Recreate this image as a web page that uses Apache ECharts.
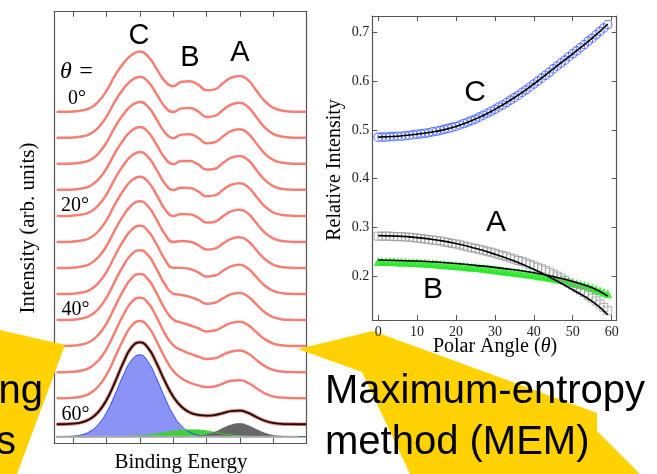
<!DOCTYPE html>
<html>
<head>
<meta charset="utf-8">
<script src="https://cdn.jsdelivr.net/npm/echarts@6/dist/echarts.min.js"></script>
<style>
html, body { margin: 0; padding: 0; background: #fff; }
#chart { width: 657px; height: 474px; }
</style>
</head>
<body>
<div id="chart"></div>
<script>
// ---- left panel: stacked spectra ----
const energy = [-0.5, -0.25, 0, 0.25, 0.5, 0.75, 1, 1.25, 1.5, 1.75, 2, 2.25, 2.5, 2.75, 3, 3.25,
  3.5, 3.75, 4, 4.25, 4.5, 4.75, 5, 5.25, 5.5, 5.75, 6, 6.25, 6.5, 6.75, 7]
const energyTicks = [0, 1, 2, 3, 4, 5, 6, 7]
const angles = [0, 5, 10, 15, 20, 25, 30, 35, 40, 45, 50, 55, 60]
const spectra = [
  [0, 0, 0.3, 1.2, 3.5, 10, 21, 36, 48, 56.5, 60, 55, 43, 30.5, 25.5, 29.8, 30.5, 27, 21.3, 22.3, 28.5, 34, 35.7, 31.5, 21, 10.5, 4, 1.2, 0.3, 0, 0],
  [0, 0, 0.3, 1.2, 3.6, 10.1, 21.1, 36.2, 48.5, 57.3, 60.9, 55.8, 43.7, 31, 25.6, 29.3, 29.8, 26.3, 20.8, 21.8, 27.8, 33.2, 34.8, 30.7, 20.4, 10.2, 3.9, 1.2, 0.3, 0, 0],
  [0, 0, 0.3, 1.3, 3.6, 10.2, 21.3, 36.5, 49.1, 58.1, 61.7, 56.7, 44.4, 31.4, 25.6, 29.1, 29.4, 25.9, 20.5, 21.5, 27.5, 32.8, 34.4, 30.3, 20.2, 10.1, 3.8, 1.2, 0.3, 0, 0],
  [0, 0, 0.3, 1.3, 3.7, 10.3, 21.4, 36.7, 49.6, 58.9, 62.6, 57.5, 45.2, 31.8, 25.7, 28.7, 28.8, 25.4, 20.2, 21.1, 27, 32.1, 33.7, 29.7, 19.8, 9.9, 3.8, 1.1, 0.3, 0, 0],
  [0, 0, 0.4, 1.3, 3.8, 10.4, 21.6, 37, 50.3, 60, 63.7, 58.6, 46.1, 32.4, 25.8, 28.1, 27.9, 24.5, 19.5, 20.5, 26.1, 31.1, 32.6, 28.7, 19.1, 9.5, 3.6, 1.1, 0.3, 0, 0],
  [0, 0, 0.4, 1.4, 3.9, 10.5, 21.8, 37.4, 51.1, 61.2, 65, 59.8, 47.1, 32.9, 25.9, 27.8, 27.5, 24.2, 19.3, 20.2, 25.7, 30.7, 32.2, 28.3, 18.8, 9.4, 3.6, 1.1, 0.3, 0, 0],
  [0, 0, 0.4, 1.4, 4, 10.7, 22, 37.8, 52, 62.6, 66.5, 61.3, 48.4, 33.8, 26, 27, 26.2, 22.9, 18.4, 19.3, 24.5, 29.2, 30.6, 26.9, 17.8, 8.9, 3.4, 1, 0.3, 0, 0],
  [0, 0, 0.4, 1.5, 4.1, 10.8, 22.2, 38.2, 52.9, 64, 68.1, 62.8, 49.7, 34.7, 26.2, 26.1, 24.9, 21.7, 17.5, 18.4, 23.3, 27.8, 29.1, 25.4, 16.9, 8.4, 3.2, 1, 0.2, 0, 0],
  [0, 0, 0.4, 1.5, 4.3, 11, 22.5, 38.7, 54, 65.6, 69.8, 64.5, 51.1, 35.8, 26.4, 25, 23.2, 20.1, 16.3, 17.2, 21.8, 25.9, 27.1, 23.6, 15.6, 7.8, 2.9, 0.9, 0.2, 0, 0],
  [0, 0, 0.5, 1.6, 4.4, 11.2, 22.8, 39.2, 55.3, 67.7, 72, 66.6, 52.9, 37.2, 26.6, 23.4, 20.8, 17.8, 14.7, 15.5, 19.5, 23.2, 24.2, 21, 13.8, 6.9, 2.6, 0.8, 0.2, 0, 0],
  [0, 0, 0.5, 1.7, 4.6, 11.5, 23.2, 39.9, 56.8, 69.9, 74.4, 68.9, 54.9, 38.6, 26.9, 21.9, 18.5, 15.7, 13.2, 13.9, 17.4, 20.7, 21.6, 18.6, 12.2, 6, 2.3, 0.7, 0.2, 0, 0],
  [0, 0, 0.5, 1.7, 4.8, 11.7, 23.6, 40.6, 58.4, 72.3, 77, 71.4, 57, 40.4, 27.3, 20, 15.5, 12.8, 11.1, 11.8, 14.7, 17.4, 18, 15.3, 10, 4.9, 1.8, 0.6, 0.1, 0, 0],
  [0, 0.1, 0.6, 1.9, 5.2, 12.2, 24.3, 41.9, 61.3, 76.8, 81.8, 76, 61, 43, 27.7, 17.5, 11.8, 9.3, 8.6, 9.2, 11.2, 13.2, 13.6, 11.3, 7.2, 3.5, 1.3, 0.4, 0.1, 0, 0]
]
// MEM components of the 60 deg spectrum
const compC = [0, 0.15, 0.6, 1.9, 5.2, 12.2, 24.3, 41.8, 61.1, 76.4, 81.7, 74.5, 58.2, 38.9, 22.2, 10.7, 4.5, 1.6, 0.5, 0.15, 0, 0, 0, 0, 0, 0, 0, 0, 0, 0, 0]
const compB = [0, 0, 0, 0, 0, 0, 0, 0.1, 0.2, 0.4, 0.9, 1.7, 2.8, 4.2, 5.5, 6.4, 6.8, 6.6, 5.8, 4.4, 2.9, 1.6, 0.8, 0.35, 0.15, 0.05, 0, 0, 0, 0, 0]
const compA = [0, 0, 0, 0, 0, 0, 0, 0, 0, 0, 0, 0, 0, 0, 0, 0, 0.1, 0.5, 1.8, 4.4, 8.4, 11.7, 13, 11, 7.2, 3.5, 1.3, 0.4, 0.1, 0, 0]
const offsetStep = 26
const lastBaseline = 12.4

// ---- right panel: relative intensities ----
const polarAngle = [0, 1, 2, 3, 4, 5, 6, 7, 8, 9, 10, 11, 12, 13, 14, 15, 16, 17, 18, 19, 20, 21, 22, 23, 24, 25, 26, 27, 28, 29,
  30, 31, 32, 33, 34, 35, 36, 37, 38, 39, 40, 41, 42, 43, 44, 45, 46, 47, 48, 49, 50, 51, 52, 53, 54, 55, 56, 57, 58, 59]
const relC = [0.485, 0.485, 0.485, 0.486, 0.486, 0.487, 0.487, 0.488, 0.489, 0.490, 0.491, 0.492, 0.493, 0.494, 0.496, 0.497, 0.499, 0.501, 0.503, 0.505,
  0.507, 0.510, 0.513, 0.516, 0.519, 0.522, 0.526, 0.530, 0.534, 0.538, 0.542, 0.547, 0.551, 0.556, 0.561, 0.566, 0.571, 0.577, 0.582, 0.588,
  0.594, 0.600, 0.606, 0.612, 0.618, 0.625, 0.631, 0.637, 0.643, 0.650, 0.656, 0.662, 0.669, 0.675, 0.682, 0.688, 0.695, 0.702, 0.709, 0.716]
const relA = [0.282, 0.282, 0.282, 0.282, 0.281, 0.281, 0.281, 0.280, 0.280, 0.279, 0.278, 0.277, 0.276, 0.275, 0.274, 0.273, 0.272, 0.270, 0.269, 0.267,
  0.266, 0.264, 0.262, 0.260, 0.258, 0.257, 0.255, 0.253, 0.251, 0.249, 0.247, 0.244, 0.242, 0.240, 0.237, 0.235, 0.232, 0.230, 0.227, 0.224,
  0.221, 0.218, 0.215, 0.212, 0.208, 0.204, 0.200, 0.196, 0.191, 0.186, 0.181, 0.176, 0.171, 0.166, 0.160, 0.155, 0.149, 0.143, 0.136, 0.129]
const relB = [0.230, 0.230, 0.230, 0.230, 0.230, 0.229, 0.229, 0.229, 0.228, 0.228, 0.228, 0.227, 0.227, 0.226, 0.226, 0.225, 0.224, 0.224, 0.223, 0.222,
  0.222, 0.221, 0.220, 0.219, 0.218, 0.218, 0.217, 0.216, 0.215, 0.214, 0.213, 0.212, 0.211, 0.210, 0.209, 0.208, 0.207, 0.206, 0.205, 0.204,
  0.203, 0.201, 0.200, 0.199, 0.197, 0.196, 0.194, 0.193, 0.191, 0.189, 0.187, 0.185, 0.183, 0.181, 0.179, 0.176, 0.173, 0.170, 0.167, 0.164]
const fitAngle = [0, 5, 10, 15, 20, 25, 30, 35, 40, 45, 50, 55, 59]
const fitC = [0.485, 0.487, 0.491, 0.497, 0.507, 0.522, 0.542, 0.566, 0.594, 0.625, 0.656, 0.688, 0.717]
const fitA = [0.283, 0.282, 0.279, 0.274, 0.267, 0.257, 0.245, 0.231, 0.214, 0.194, 0.172, 0.148, 0.121]
const fitB = [0.233, 0.232, 0.231, 0.229, 0.226, 0.222, 0.218, 0.213, 0.207, 0.199, 0.189, 0.176, 0.159]
const angleTicks = [0, 10, 20, 30, 40, 50, 60]
const intensityTicks = [0.2, 0.3, 0.4, 0.5, 0.6, 0.7]

const SERIF = '"Liberation Serif", "DejaVu Serif", serif'
const SANS = '"Liberation Sans", Arial, sans-serif'
const YELLOW = '#ffd200'

const chart = echarts.init(document.getElementById('chart'), null, { renderer: 'canvas' })

const series = []
spectra.forEach((spec, k) => {
  const base = lastBaseline + offsetStep * (angles.length - 1 - k)
  const pts = energy.map((e, i) => [e, spec[i] + base])
  series.push({
    type: 'line', xAxisIndex: 0, yAxisIndex: 0, smooth: true, symbol: 'none', silent: true,
    lineStyle: { color: '#f3786e', width: k === angles.length - 1 ? 3.6 : 2.5, opacity: 0.95 },
    data: pts, z: 3
  })
  if (k === angles.length - 1) {
    series.push({
      type: 'line', xAxisIndex: 0, yAxisIndex: 0, smooth: true, symbol: 'none', silent: true,
      lineStyle: { color: '#111', width: 1.8 }, data: pts, z: 4
    })
  }
})
const comps = [
  { d: compC, fill: '#8b93f7', line: '#2a48f5' },
  { d: compB, fill: '#3fcf3a', line: '#3fcf3a' },
  { d: compA, fill: '#666666', line: '#666666' }
]
comps.forEach(c => {
  series.push({
    type: 'line', xAxisIndex: 0, yAxisIndex: 0, smooth: true, symbol: 'none', silent: true,
    lineStyle: { color: c.line, width: 1 }, areaStyle: { color: c.fill, opacity: 1 },
    data: energy.map((e, i) => [e, c.d[i]]), z: 2
  })
})
series.push({
  type: 'line', xAxisIndex: 0, yAxisIndex: 0, symbol: 'none', silent: true,
  lineStyle: { color: '#aaaaaa', width: 2 },
  data: energy.slice(0, 30).map(e => [e, 0]), z: 2
})

// right panel
series.push({
  type: 'scatter', xAxisIndex: 2, yAxisIndex: 2, symbol: 'triangle', symbolSize: 9, silent: true,
  itemStyle: { color: '#1fe61f' }, data: polarAngle.map((a, i) => [a, relB[i]]), z: 3
})
series.push({
  type: 'scatter', xAxisIndex: 2, yAxisIndex: 2, symbol: 'rect', symbolSize: 8, silent: true,
  itemStyle: { color: 'rgba(255,255,255,0)', borderColor: '#9a9a9a', borderWidth: 1 },
  data: polarAngle.map((a, i) => [a, relA[i]]), z: 3
})
series.push({
  type: 'scatter', xAxisIndex: 2, yAxisIndex: 2, symbol: 'circle', symbolSize: 8.5, silent: true,
  itemStyle: { color: 'rgba(255,255,255,0)', borderColor: '#3c5cff', borderWidth: 1.1 },
  data: polarAngle.map((a, i) => [a, relC[i]]), z: 3
})
;[fitC, fitA, fitB].forEach(f => {
  series.push({
    type: 'line', xAxisIndex: 2, yAxisIndex: 2, smooth: true, symbol: 'none', silent: true,
    lineStyle: { color: '#000', width: 1.6 }, data: fitAngle.map((a, i) => [a, f[i]]), z: 4
  })
})

const frame = { show: true, onZero: false, lineStyle: { color: '#555', width: 1.2 } }
const txt = (x, y, text, font, extra) => Object.assign({
  type: 'text', x: x, y: y, z: 120,
  style: { text: text, font: font, fill: '#000', textAlign: 'center', textVerticalAlign: 'middle' }
}, extra || {})

chart.setOption({
  animation: false,
  backgroundColor: '#fff',
  grid: [
    { left: 54.3, top: 11.7, width: 252.4, height: 431.6 },
    { left: 372.3, top: 16, width: 244.4, height: 304 }
  ],
  xAxis: [
    { gridIndex: 0, type: 'value', min: -0.57, max: 7.01, axisLine: frame, splitLine: { show: false },
      axisTick: { inside: true, length: 6, customValues: energyTicks, lineStyle: { color: '#555' } }, axisLabel: { show: false } },
    { gridIndex: 0, type: 'value', position: 'top', min: -0.57, max: 7.01, axisLine: frame, splitLine: { show: false },
      axisTick: { inside: true, length: 5, customValues: energyTicks, lineStyle: { color: '#555' } }, axisLabel: { show: false } },
    { gridIndex: 1, type: 'value', min: -1.5, max: 61.3, axisLine: frame, splitLine: { show: false }, z: 60,
      axisTick: { inside: true, length: 5, customValues: angleTicks, lineStyle: { color: '#555' } },
      axisLabel: { customValues: angleTicks, margin: 5, color: '#222', fontFamily: SERIF, fontSize: 14 } },
    { gridIndex: 1, type: 'value', position: 'top', min: -1.5, max: 61.3, axisLine: frame, splitLine: { show: false },
      axisTick: { inside: true, length: 5, customValues: angleTicks, lineStyle: { color: '#555' } }, axisLabel: { show: false } }
  ],
  yAxis: [
    { gridIndex: 0, type: 'value', min: -6.6, max: 424.2, axisLine: frame, axisTick: { show: false },
      axisLabel: { show: false }, splitLine: { show: false } },
    { gridIndex: 0, type: 'value', position: 'right', min: -6.6, max: 424.2, axisLine: frame, axisTick: { show: false },
      axisLabel: { show: false }, splitLine: { show: false } },
    { gridIndex: 1, type: 'value', min: 0.11, max: 0.7335, axisLine: frame, splitLine: { show: false }, z: 60,
      axisTick: { inside: true, length: 5, customValues: intensityTicks, lineStyle: { color: '#555' } },
      axisLabel: { customValues: intensityTicks, margin: 3, color: '#222', fontFamily: SERIF, fontSize: 14,
        formatter: v => v.toFixed(1) } },
    { gridIndex: 1, type: 'value', position: 'right', min: 0.11, max: 0.7335, axisLine: frame, splitLine: { show: false },
      axisTick: { inside: true, length: 5, customValues: intensityTicks, lineStyle: { color: '#555' } }, axisLabel: { show: false } }
  ],
  series: series,
  graphic: [
    // yellow callouts
    { type: 'polygon', z: 100, shape: { points: [[0, 330], [65, 345], [17, 474], [0, 474]] }, style: { fill: YELLOW } },
    { type: 'polygon', z: 50, shape: { points: [[298, 349], [373, 331], [597, 413], [597, 431], [640, 474], [410, 474], [362, 372]] },
      style: { fill: YELLOW } },
    // left panel labels
    txt(139, 36, 'C', '29px ' + SANS),
    txt(190, 57.5, 'B', '29px ' + SANS),
    txt(240, 52.5, 'A', '29px ' + SANS),
    txt(77, 72, 'θ =', 'italic 24px ' + SERIF),
    txt(77, 99, '0°', '20px ' + SERIF),
    txt(75, 206, '20°', '20px ' + SERIF),
    txt(75.5, 310, '40°', '20px ' + SERIF),
    txt(75.5, 415, '60°', '20px ' + SERIF),
    txt(28, 228, 'Intensity (arb. units)', '21px ' + SERIF, { rotation: Math.PI / 2 }),
    txt(181, 462, 'Binding Energy', '21px ' + SERIF),
    // right panel labels
    txt(475, 93, 'C', '30px ' + SANS),
    txt(496, 222.5, 'A', '30px ' + SANS),
    txt(433, 289.5, 'B', '30px ' + SANS),
    txt(335, 170, 'Relative Intensity', '20px ' + SERIF, { rotation: Math.PI / 2 }),
    {
      type: 'text', x: 495, y: 347, z: 120,
      style: {
        text: 'Polar Angle ({i|θ})', font: '20px ' + SERIF, fill: '#000', textAlign: 'center', textVerticalAlign: 'middle',
        rich: { i: { fontStyle: 'italic', fontFamily: SERIF, fontSize: 20 } }
      }
    },
    // callout texts
    { type: 'text', x: 325, y: 392, z: 120, style: { text: 'Maximum-entropy', font: '40px ' + SANS, fill: '#000', textAlign: 'left', textVerticalAlign: 'middle' } },
    { type: 'text', x: 325, y: 443, z: 120, style: { text: 'method (MEM)', font: '40px ' + SANS, fill: '#000', textAlign: 'left', textVerticalAlign: 'middle' } },
    { type: 'text', x: 43, y: 392, z: 120, style: { text: 'fitting', font: '40px ' + SANS, fill: '#000', textAlign: 'right', textVerticalAlign: 'middle' } },
    { type: 'text', x: 16, y: 443, z: 120, style: { text: 'methods', font: '40px ' + SANS, fill: '#000', textAlign: 'right', textVerticalAlign: 'middle' } }
  ]
})
</script>
</body>
</html>
